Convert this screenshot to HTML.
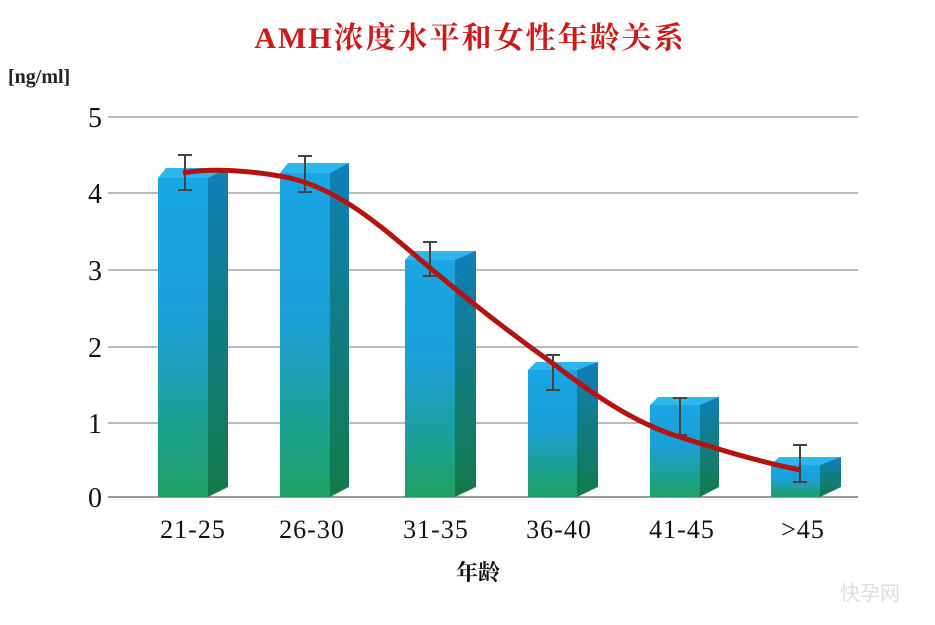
<!DOCTYPE html><html><head><meta charset="utf-8"><style>body{margin:0;background:#fff}svg{display:block}</style></head><body>
<svg width="935" height="625" xmlns="http://www.w3.org/2000/svg" font-family="Liberation Serif, Noto Serif CJK SC, serif">
<defs>
<linearGradient id="g" x1="0" y1="0" x2="0" y2="1"><stop offset="0" stop-color="#18a6e4"/><stop offset="0.45" stop-color="#1b9fd6"/><stop offset="1" stop-color="#1ea063"/></linearGradient>
<linearGradient id="s" x1="0" y1="0" x2="0" y2="1"><stop offset="0" stop-color="#0f7fb8"/><stop offset="1" stop-color="#137a4a"/></linearGradient>
</defs>
<rect width="935" height="625" fill="#fff"/>
<text x="470" y="48" text-anchor="middle" font-size="30" font-weight="bold" fill="#cc1a1a" letter-spacing="2">AMH浓度水平和女性年龄关系</text>
<text x="8" y="83" font-size="20" font-weight="bold" fill="#222">[ng/ml]</text>
<g stroke="#bbb" stroke-width="2">
<line x1="108" y1="117" x2="858" y2="117"/><line x1="108" y1="193" x2="858" y2="193"/><line x1="108" y1="270" x2="858" y2="270"/><line x1="108" y1="347" x2="858" y2="347"/><line x1="108" y1="423" x2="858" y2="423"/><line x1="108" y1="497" x2="858" y2="497" stroke="#999"/>
</g>
<g font-size="28" fill="#111" text-anchor="end">
<text x="102" y="127">5</text><text x="102" y="203">4</text><text x="102" y="280">3</text><text x="102" y="357">2</text><text x="102" y="433">1</text><text x="102" y="507">0</text>
</g>
<g>
<!-- bars: front x,w, top -->
<g id="b1"><polygon points="208,178 216,168 228,168 228,487 208,497" fill="url(#s)"/><polygon points="158,178 166,168 228,168 208,178" fill="#2fb6ec"/><rect x="158" y="178" width="50" height="319" fill="url(#g)"/></g>
<polygon points="330,173 338,163 349,163 349,487 330,497" fill="url(#s)"/><polygon points="280,173 288,163 349,163 330,173" fill="#2fb6ec"/><rect x="280" y="173" width="50" height="324" fill="url(#g)"/>
<polygon points="455,260 463,251 476,251 476,487 455,497" fill="url(#s)"/><polygon points="405,260 413,251 476,251 455,260" fill="#2fb6ec"/><rect x="405" y="260" width="50" height="237" fill="url(#g)"/>
<polygon points="577,370 585,362 598,362 598,487 577,497" fill="url(#s)"/><polygon points="528,370 536,362 598,362 577,370" fill="#2fb6ec"/><rect x="528" y="370" width="49" height="127" fill="url(#g)"/>
<polygon points="700,405 708,397 719,397 719,487 700,497" fill="url(#s)"/><polygon points="650,405 658,397 719,397 700,405" fill="#2fb6ec"/><rect x="650" y="405" width="50" height="92" fill="url(#g)"/>
<polygon points="820,465 828,457 841,457 841,487 820,497" fill="url(#s)"/><polygon points="771,465 779,457 841,457 820,465" fill="#2fb6ec"/><rect x="771" y="465" width="49" height="32" fill="url(#g)"/>
</g>
<g stroke="#444" stroke-width="2" fill="none">
<path d="M185 155V190M178 155H192M178 190H192"/>
<path d="M305 156V192M298 156H312M298 192H312"/>
<path d="M430 242V276M423 242H437M423 276H437"/>
<path d="M553 355V390M546 355H560M546 390H560"/>
<path d="M680 398V435M673 398H687M673 435H687"/>
<path d="M800 445V482M793 445H807M793 482H807"/>
</g>
<path d="M183 173 C210 168 250 170 290 178 C340 190 380 225 430 268 C480 310 520 340 555 365 C600 400 640 425 680 437 C720 450 760 462 800 470" stroke="#b51212" stroke-width="5" fill="none"/>
<g font-size="26" fill="#111" text-anchor="middle" letter-spacing="1">
<text x="193" y="538">21-25</text><text x="312" y="538">26-30</text><text x="436" y="538">31-35</text><text x="559" y="538">36-40</text><text x="682" y="538">41-45</text><text x="803" y="538">&gt;45</text>
</g>
<text x="478" y="580" text-anchor="middle" font-size="22" font-weight="bold" fill="#111">年龄</text>
<text x="870" y="600" text-anchor="middle" font-size="20" font-family="Noto Sans CJK SC, sans-serif" fill="#ddd">快孕网</text>
</svg>
</body></html>
